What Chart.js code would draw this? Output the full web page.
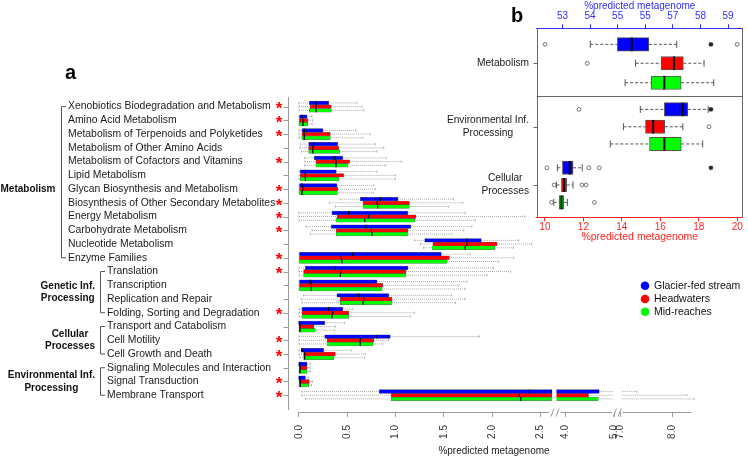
<!DOCTYPE html>
<html><head><meta charset="utf-8">
<script src="https://cdn.jsdelivr.net/npm/chart.js@4.4.1/dist/chart.umd.min.js"></script>
<style>
html,body{margin:0;padding:0;background:#fff;}
#wrap{position:relative;width:748px;height:457px;overflow:hidden;background:#fff;}
canvas{position:absolute;left:0;top:0;}
</style></head><body>
<div id="wrap"><canvas id="ca" width="748" height="457"></canvas><canvas id="cb" width="748" height="457"></canvas></div>
<script>
// ---------------- DATA: panel a ----------------
const categories = [
  "Xenobiotics Biodegradation and Metabolism","Amino Acid Metabolism","Metabolism of Terpenoids and Polyketides",
  "Metabolism of Other Amino Acids","Metabolism of Cofactors and Vitamins","Lipid Metabolism",
  "Glycan Biosynthesis and Metabolism","Biosynthesis of Other Secondary Metabolites","Energy Metabolism",
  "Carbohydrate Metabolism","Nucleotide Metabolism","Enzyme Families",
  "Translation","Transcription","Replication and Repair","Folding, Sorting and Degradation",
  "Transport and Catabolism","Cell Motility","Cell Growth and Death",
  "Signaling Molecules and Interaction","Signal Transduction","Membrane Transport"
];
const significant = [1,1,1,0,1,0,1,1,1,1,0,1,1,0,0,1,0,1,1,0,1,1];
const groupNames = [["Metabolism"],["Genetic Inf.","Processing"],["Cellular","Processes"],["Environmental Inf.","Processing"]];
const groupFirst = [0,12,16,19];
const groupLast  = [11,15,18,21];
const seriesNames = ["Glacier-fed stream","Headwaters","Mid-reaches"];
// [lower whisker, Q1, median, Q3, upper whisker]  (%predicted metagenome)
const glacierA = [
  [0.0,0.107,0.176,0.307,0.60],[0.0,0.0,0.031,0.083,0.135],[0.0,0.031,0.055,0.248,0.59],
  [0.014,0.10,0.152,0.40,0.79],[0.059,0.159,0.37,0.452,0.90],[0.0,0.014,0.066,0.386,0.807],
  [0.0,0.0,0.031,0.393,0.77],[0.428,0.635,0.842,1.025,1.60],[0.0,0.342,0.514,1.125,1.72],
  [0.072,0.334,0.694,1.156,1.79],[1.197,1.301,1.739,1.887,2.274],[0.0,0.0,0.556,1.473,1.77],
  [0.0,0.066,0.376,1.128,2.015],[0.0,0.0,0.117,0.807,1.74],[0.048,0.393,0.618,0.928,1.58],
  [0.0,0.031,0.307,0.452,0.556],[0.0,0.0,0.003,0.266,0.473],[0.0,0.266,0.807,0.945,1.866],
  [0.0,0.024,0.031,0.255,0.542],[0.0,0.0,0.003,0.083,0.117],[0.0,0.0,0.003,0.066,0.10],
  [0.031,0.831,2.385,4.69,7.32]
];
const headwatersA = [
  [0.0,0.117,0.176,0.334,0.652],[0.0,0.003,0.041,0.093,0.14],[0.0,0.031,0.055,0.324,0.738],
  [0.01,0.10,0.142,0.41,0.877],[0.062,0.176,0.383,0.524,1.059],[0.0,0.014,0.066,0.462,1.0],
  [0.0,0.0,0.041,0.403,0.79],[0.314,0.663,0.807,1.142,1.695],[0.0,0.393,0.721,1.211,2.34],
  [0.135,0.386,0.749,1.128,1.705],[1.256,1.387,1.739,2.05,2.41],[0.0,0.0,0.438,1.556,2.22],
  [0.0,0.048,0.438,1.108,2.19],[0.0,0.0,0.127,0.866,1.65],[0.024,0.428,0.67,0.963,1.72],
  [0.0,0.031,0.349,0.514,1.197],[0.0,0.003,0.01,0.152,0.376],[0.0,0.29,0.635,0.773,0.928],
  [0.0,0.048,0.059,0.376,0.687],[0.0,0.003,0.014,0.083,0.12],[0.0,0.003,0.014,0.107,0.14],
  [0.031,0.955,2.281,4.47,8.28]
];
const midReachesA = [
  [0.0,0.107,0.176,0.334,0.67],[0.0,0.003,0.041,0.09,0.135],[0.0,0.031,0.055,0.324,0.66],
  [0.024,0.10,0.142,0.42,0.807],[0.059,0.176,0.383,0.507,0.90],[0.0,0.014,0.066,0.41,0.997],
  [0.0,0.0,0.031,0.396,0.77],[0.376,0.663,0.814,1.142,1.55],[0.0,0.383,0.68,1.197,1.825],
  [0.118,0.386,0.756,1.128,1.584],[1.29,1.377,1.72,2.026,2.22],[0.0,0.0,0.445,1.532,2.07],
  [0.003,0.048,0.428,1.108,1.946],[0.0,0.0,0.127,0.859,1.72],[0.031,0.428,0.663,0.963,1.62],
  [0.0,0.031,0.342,0.514,1.152],[0.0,0.003,0.01,0.169,0.37],[0.0,0.29,0.635,0.766,0.866],
  [0.01,0.048,0.059,0.359,0.68],[0.0,0.003,0.01,0.083,0.117],[0.0,0.003,0.014,0.10,0.13],
  [0.066,0.955,2.295,4.67,8.42]
];
const axisTickValues = [0,0.5,1,1.5,2,2.5,4,5,7,8];
const axisTickLabels = ["0.0","0.5","1.0","1.5","2.0","2.5","4.0","5.0","7.0","8.0"];

// ---------------- DATA: panel b ----------------
const bCategories = [["Metabolism"],["Environmental Inf.","Processing"],["Cellular","Processes"]];
const glacierB    = [[54.01,54.99,55.51,56.13,57.14],[14.96,16.21,17.15,17.43,18.49],[10.65,10.91,11.29,11.46,11.94]];
const headwatersB = [[55.65,56.58,57.04,57.38,58.13],[14.08,15.23,15.63,16.23,17.17],[10.60,10.86,10.99,11.13,11.46]];
const midReachesB = [[55.27,56.21,56.69,57.30,58.48],[13.40,15.44,16.21,17.09,18.20],[10.46,10.74,10.86,10.98,11.17]];
const glacierBOut    = [[52.37,59.33],[11.77],[10.10,12.28,12.83]];
const headwatersBOut = [[53.90],[18.53],[10.48,11.92,12.14]];
const midReachesBOut = [[],[],[10.34,12.57]];
const glacierBMark   = [58.38,18.63,18.63];
const topTickValues = [53,54,55,56,57,58,59];
const topTickLabels = ["53","54","55","55","57","58","59"];
const bottomTickValues = [10,12,14,16,18,20];
const bottomTickLabels = ["10","12","14","16","18","20"];

// ---------------- STYLE / LAYOUT ----------------
const FONT = '"Liberation Sans", Arial, Helvetica, sans-serif';
const COLORS = ['#0000ff','#ff0000','#00ff00'];
const BLUE_AX = '#3030ff', RED_AX = '#ff2424';
// broken-axis transform for panel a (0-2.62 | 3.81-5 | 7-8.4)
function T(v){
  if (v <= 2.62) return v;
  if (v < 3.81) return 2.62 + (v-2.62)*(0.045/1.19);
  if (v <= 5) return 2.761 + (v-4)*0.503;
  if (v < 7) return 3.264 + (v-5)*(0.059/2);
  return 3.323 + (v-7)*0.541;
}
// vertical slots of panel b box rows (group x series)
const bSlots = [[0,1,2.03],[3.44,4.36,5.27],[6.53,7.44,8.36]];

function line(ctx,x1,y1,x2,y2){ctx.beginPath();ctx.moveTo(x1,y1);ctx.lineTo(x2,y2);ctx.stroke();}
function block(ctx, lines, rightX, cy, lh){
  const w = Math.max(...lines.map(l=>ctx.measureText(l).width));
  ctx.textAlign='center'; ctx.textBaseline='middle';
  lines.forEach((l,k)=>ctx.fillText(l, rightX - w/2, cy + (k-(lines.length-1)/2)*lh));
}

// ---------------- PANEL A ----------------
const seriesA = [glacierA, headwatersA, midReachesA];
const panelA = {
  id:'panelA',
  beforeDatasetsDraw(chart){
    const ctx = chart.ctx, xs = chart.scales.x;
    const P = v => xs.getPixelForValue(T(v));
    ctx.save();
    seriesA.forEach((s,d)=>{
      chart.getDatasetMeta(d).data.forEach((bar,i)=>{
        const st = s[i], y = bar.y, h = bar.height;
        ctx.strokeStyle='#a3a3a3'; ctx.lineWidth=0.9; ctx.setLineDash([1,1]);
        line(ctx,P(st[0]),y,P(st[1]),y); line(ctx,P(st[3]),y,P(st[4]),y);
        ctx.setLineDash([]); ctx.lineWidth=0.7;
        line(ctx,P(st[0]),y-h/2+0.6,P(st[0]),y+h/2-0.6);
        line(ctx,P(st[4]),y-h/2+0.6,P(st[4]),y+h/2-0.6);
      });
    });
    ctx.restore();
  },
  afterDatasetsDraw(chart){
    const ctx = chart.ctx, xs = chart.scales.x, ys = chart.scales.y, ca = chart.chartArea;
    const P = v => xs.getPixelForValue(T(v));
    ctx.save();
    // medians
    seriesA.forEach((s,d)=>{
      chart.getDatasetMeta(d).data.forEach((bar,i)=>{
        const y = bar.y, h = bar.height;
        ctx.strokeStyle='#000'; ctx.lineWidth=1.3;
        line(ctx,P(s[i][2]),y-h/2,P(s[i][2]),y+h/2);
      });
    });
    // axis breaks (white gaps)
    ctx.fillStyle='#fff';
    ctx.fillRect(P(2.62), ca.top, P(3.81)-P(2.62), ca.bottom-ca.top-1);
    ctx.fillRect(P(4.98), ca.top, P(7.03)-P(4.98), ca.bottom-ca.top-1);
    // x axis line with break marks
    const yb = Math.round(ca.bottom)+0.5;
    ctx.strokeStyle='#9a9a9a'; ctx.lineWidth=1;
    line(ctx,P(0),yb,P(2.59),yb); line(ctx,P(3.9),yb,P(4.95),yb); line(ctx,P(7.05),yb,P(8.37),yb);
    const sl = x => line(ctx,x-1.6,yb+4,x+1.6,yb-4);
    const m1 = (P(2.59)+P(3.9))/2, m2 = (P(4.95)+P(7.05))/2;
    sl(m1-2.5); sl(m1+2.5); sl(m2-2.3); sl(m2+2.3);
    // y axis line & ticks
    const xl = Math.round(ca.left)+0.5;
    line(ctx,xl,ca.top,xl,ca.bottom-2);
    categories.forEach((c,i)=>{ const y=Math.round(ys.getPixelForValue(i))+0.5; line(ctx,xl-5,y,xl,y); });
    // category labels
    ctx.fillStyle='#1a1a1a'; ctx.font='10.4px '+FONT; ctx.textAlign='left'; ctx.textBaseline='middle';
    categories.forEach((c,i)=>{
      const y = ys.getPixelForValue(i);
      ctx.fillText(c, i<12 ? 68 : 107, y);
    });
    // significance stars
    ctx.fillStyle='#ff0000'; ctx.font='bold 17px '+FONT; ctx.textAlign='center';
    significant.forEach((f,i)=>{ if(f) ctx.fillText('*', 279, ys.getPixelForValue(i)+3); });
    // brackets & group labels
    ctx.strokeStyle='#555'; ctx.lineWidth=1;
    groupNames.forEach((g,k)=>{
      const bx = k===0 ? 61.5 : 100.5;
      const y1 = ys.getPixelForValue(groupFirst[k]), y2 = ys.getPixelForValue(groupLast[k]);
      ctx.beginPath(); ctx.moveTo(bx+4.5,y1); ctx.lineTo(bx,y1); ctx.lineTo(bx,y2); ctx.lineTo(bx+4.5,y2); ctx.stroke();
      ctx.fillStyle='#111'; ctx.font='bold 10px '+FONT;
      const cy = k===0 ? ys.getPixelForValue(6) : (y1+y2)/2;
      block(ctx, g, k===0 ? 55.5 : 95, cy, 12.8);
    });
    // panel letter
    ctx.fillStyle='#000'; ctx.font='bold 20px '+FONT; ctx.textAlign='left'; ctx.textBaseline='alphabetic';
    ctx.fillText('a', 65, 79);
    // legend
    ctx.font='10.5px '+FONT; ctx.textBaseline='middle';
    [285.7,299,311.7].forEach((y,d)=>{
      ctx.fillStyle=COLORS[d]; ctx.beginPath(); ctx.arc(645,y,4.3,0,Math.PI*2); ctx.fill();
      ctx.fillStyle='#111'; ctx.fillText(seriesNames[d],654,y);
    });
    ctx.restore();
  }
};

new Chart(document.getElementById('ca'), {
  type:'bar',
  data:{ datasets: seriesA.map((s,d)=>({
    label: seriesNames[d], indexAxis:'y', xAxisID:'x', yAxisID:'y',
    data: s.map((st,i)=>({x:[T(st[1]),T(st[3])], y:i})),
    backgroundColor: COLORS[d], borderColor:'rgba(60,60,60,0.75)', borderWidth:0.5, borderSkipped:false,
    barThickness:3.7
  }))},
  options:{
    responsive:false, animation:false, devicePixelRatio:1, indexAxis:'y',
    layout:{padding:{left:288,right:48,top:97,bottom:0}},
    plugins:{legend:{display:false}, tooltip:{enabled:false}},
    scales:{
      x:{type:'linear', position:'bottom', min:-0.11387, max:4.1511, offset:false,
        afterBuildTicks:s=>{ s.ticks = axisTickValues.map(v=>({value:T(v)})); },
        afterFit:s=>{ s.height = 45; },
        grid:{display:true, drawOnChartArea:false, drawTicks:true, tickLength:5, color:'#9a9a9a', offset:false},
        border:{display:false},
        ticks:{autoSkip:false, minRotation:90, maxRotation:90, padding:8, color:'#333',
          font:{family:FONT,size:10}, callback:(v,i)=>axisTickLabels[i]},
        title:{display:true, text:'%predicted metagenome', color:'#222', font:{family:FONT,size:10}, padding:{top:0,bottom:0}}
      },
      y:{type:'linear', display:false, reverse:true, min:-0.7, max:22.22, offset:false, grid:{offset:false},
        afterBuildTicks:s=>{ s.ticks = categories.map((c,i)=>({value:i})); }}
    }
  },
  plugins:[panelA]
});

// ---------------- PANEL B ----------------
const seriesB = [glacierB, headwatersB, midReachesB];
const outB = [glacierBOut, headwatersBOut, midReachesBOut];
const dsB = [];
seriesB.forEach((s,d)=>dsB.push({type:'bar', indexAxis:'y', xAxisID:'xTop', yAxisID:'y', grouped:false,
  data:[{x:[s[0][1],s[0][3]], y:bSlots[0][d]}], backgroundColor:COLORS[d], borderColor:'#555', borderWidth:1, borderSkipped:false, barThickness:13.5}));
seriesB.forEach((s,d)=>dsB.push({type:'bar', indexAxis:'y', xAxisID:'xBottom', yAxisID:'y', grouped:false,
  data:[1,2].map(g=>({x:[s[g][1],s[g][3]], y:bSlots[g][d]})), backgroundColor:COLORS[d], borderColor:'#555', borderWidth:1, borderSkipped:false, barThickness:13.5}));
const outPts = g => { const a=[]; outB.forEach((o,d)=>o[g].forEach(v=>a.push({x:v, y:bSlots[g][d]}))); return a; };
const outStyle = {type:'scatter', indexAxis:'x', yAxisID:'y', pointStyle:'circle', pointRadius:1.9, pointBackgroundColor:'#fff', pointBorderColor:'#555', pointBorderWidth:0.8, showLine:false};
dsB.push(Object.assign({}, outStyle, {xAxisID:'xTop', data:outPts(0)}));
dsB.push(Object.assign({}, outStyle, {xAxisID:'xBottom', data:outPts(1).concat(outPts(2))}));
const markStyle = {type:'scatter', indexAxis:'x', yAxisID:'y', pointStyle:'star', pointRadius:2.4, pointBorderColor:'#222', pointBorderWidth:1.1, showLine:false};
dsB.push(Object.assign({}, markStyle, {xAxisID:'xTop', data:[{x:glacierBMark[0], y:bSlots[0][0]}]}));
dsB.push(Object.assign({}, markStyle, {xAxisID:'xBottom', data:[1,2].map(g=>({x:glacierBMark[g], y:bSlots[g][0]}))}));

const panelB = {
  id:'panelB',
  beforeDatasetsDraw(chart){
    const ctx = chart.ctx;
    ctx.save();
    seriesB.forEach((s,d)=>{
      [0,1,2].forEach(g=>{
        const meta = chart.getDatasetMeta(g===0 ? d : 3+d);
        const bar = meta.data[g===0 ? 0 : g-1];
        const xs = chart.scales[meta.xAxisID], st = s[g], y = bar.y;
        const P = v => xs.getPixelForValue(v);
        ctx.strokeStyle='#555'; ctx.lineWidth=1; ctx.setLineDash([3,2]);
        line(ctx,P(st[0]),y,P(st[1]),y); line(ctx,P(st[3]),y,P(st[4]),y);
        ctx.setLineDash([]);
        line(ctx,P(st[0]),y-3.5,P(st[0]),y+3.5); line(ctx,P(st[4]),y-3.5,P(st[4]),y+3.5);
      });
    });
    ctx.restore();
  },
  afterDatasetsDraw(chart){
    const ctx = chart.ctx, ys = chart.scales.y, ca = chart.chartArea;
    ctx.save();
    seriesB.forEach((s,d)=>{
      [0,1,2].forEach(g=>{
        const meta = chart.getDatasetMeta(g===0 ? d : 3+d);
        const bar = meta.data[g===0 ? 0 : g-1];
        const xs = chart.scales[meta.xAxisID], x = xs.getPixelForValue(s[g][2]);
        ctx.strokeStyle='#000'; ctx.lineWidth=2;
        line(ctx,x,bar.y-bar.height/2,x,bar.y+bar.height/2);
      });
    });
    // frame sides and divider
    ctx.strokeStyle='#666'; ctx.lineWidth=1;
    const L = Math.round(ca.left)+0.5, R = Math.round(ca.right)-0.5;
    line(ctx,L,ca.top,L,ca.bottom); line(ctx,R,ca.top,R,ca.bottom);
    const yd = Math.round(ys.getPixelForValue((bSlots[0][2]+bSlots[1][0])/2))+0.5;
    line(ctx,ca.left,yd,ca.right,yd);
    // group labels & ticks
    ctx.fillStyle='#1a1a1a'; ctx.font='10.2px '+FONT;
    bCategories.forEach((c,g)=>{
      const y = ys.getPixelForValue(bSlots[g][1]);
      line(ctx,L-4,Math.round(y)+0.5,L,Math.round(y)+0.5);
      block(ctx, c, 529, y, 13.2);
    });
    ctx.fillStyle='#000'; ctx.font='bold 20px '+FONT; ctx.textAlign='left'; ctx.textBaseline='alphabetic';
    ctx.fillText('b', 511, 22);
    ctx.restore();
  }
};

new Chart(document.getElementById('cb'), {
  type:'bar',
  data:{datasets:dsB},
  options:{
    responsive:false, animation:false, devicePixelRatio:1,
    layout:{padding:{left:536.7,right:3,top:0,bottom:214}},
    plugins:{legend:{display:false}, tooltip:{enabled:false}},
    scales:{
      xTop:{type:'linear', axis:'x', position:'top', min:52.067, max:59.538, offset:false,
        afterBuildTicks:s=>{ s.ticks = topTickValues.map(v=>({value:v})); },
        afterFit:s=>{ s.height = 28.3; },
        grid:{drawOnChartArea:false, drawTicks:true, tickLength:4, color:BLUE_AX, offset:false},
        border:{display:true, color:BLUE_AX, width:1},
        ticks:{autoSkip:false, maxRotation:0, padding:2, color:BLUE_AX, font:{family:FONT,size:10}, callback:(v,i)=>topTickLabels[i]},
        title:{display:true, text:'%predicted metagenome', color:BLUE_AX, font:{family:FONT,size:10}, padding:{top:0,bottom:0}}
      },
      xBottom:{type:'linear', axis:'x', position:'bottom', min:9.573, max:20.293, offset:false,
        afterBuildTicks:s=>{ s.ticks = bottomTickValues.map(v=>({value:v})); },
        afterFit:s=>{ s.height = 25.7; },
        grid:{drawOnChartArea:false, drawTicks:true, tickLength:4, color:RED_AX, offset:false},
        border:{display:true, color:RED_AX, width:1},
        ticks:{autoSkip:false, maxRotation:0, padding:0, color:RED_AX, font:{family:FONT,size:10}, callback:(v,i)=>bottomTickLabels[i]},
        title:{display:true, text:'%predicted metagenome', color:RED_AX, font:{family:FONT,size:10.5}, padding:{top:0,bottom:0}}
      },
      y:{type:'linear', display:false, reverse:true, min:-0.85, max:9.15, offset:false, grid:{offset:false},
        afterBuildTicks:s=>{ s.ticks = [0,1,2,3,4,5,6,7,8,9].map(v=>({value:v})); }}
    }
  },
  plugins:[panelB]
});
</script></body></html>
